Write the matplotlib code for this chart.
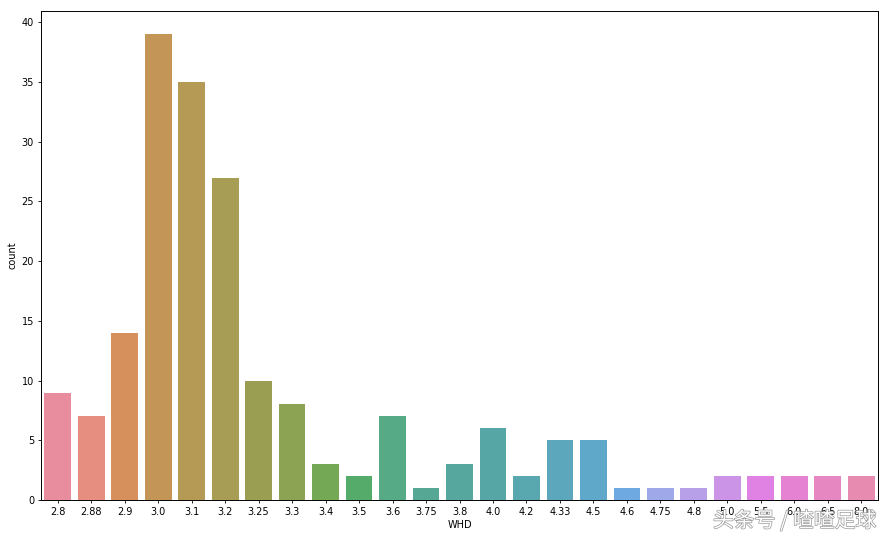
import matplotlib
matplotlib.use("Agg")
import matplotlib.patheffects as pe
import matplotlib.pyplot as plt
import seaborn as sns

categories = ["2.8", "2.88", "2.9", "3.0", "3.1", "3.2", "3.25", "3.3", "3.4", "3.5",
              "3.6", "3.75", "3.8", "4.0", "4.2", "4.33", "4.5", "4.6", "4.75", "4.8",
              "5.0", "5.5", "6.0", "6.5", "8.0"]
counts = [9, 7, 14, 39, 35, 27, 10, 8, 3, 2, 7, 1, 3, 6, 2, 5, 5, 1, 1, 1, 2, 2, 2, 2, 2]

plt.rcParams["font.family"] = ["Noto Sans CJK SC", "DejaVu Sans"]
plt.rcParams["axes.linewidth"] = 0.7

fig = plt.figure(figsize=(8.88, 5.38), dpi=100)
ax = fig.add_axes([41 / 888, 1 - 500 / 538, (878 - 41) / 888, (500 - 11) / 538])

sns.barplot(x=categories, y=counts, hue=categories, palette="husl",
            saturation=0.75, alpha=0.9, legend=False, ax=ax)
ax.set_xlim(-0.5, 24.5)
ax.set_ylim(0, 40.95)
ax.set_yticks(range(0, 41, 5))
ax.set_xlabel("WHD", fontsize=7, family="DejaVu Sans", labelpad=2.5)
ax.set_ylabel("count", fontsize=7, family="DejaVu Sans", labelpad=3)
ax.tick_params(labelsize=7, length=2.5, width=0.6, pad=2.5)
for lab in ax.get_xticklabels() + ax.get_yticklabels():
    lab.set_family("DejaVu Sans")

# watermark
fig.text(713 / 888, 1 - 521 / 538, "头条号 / 喳喳足球", fontsize=15, color="white", va="center",
         path_effects=[pe.withStroke(linewidth=1.0, foreground="#999999")])

fig.savefig("out.png", dpi=100)
